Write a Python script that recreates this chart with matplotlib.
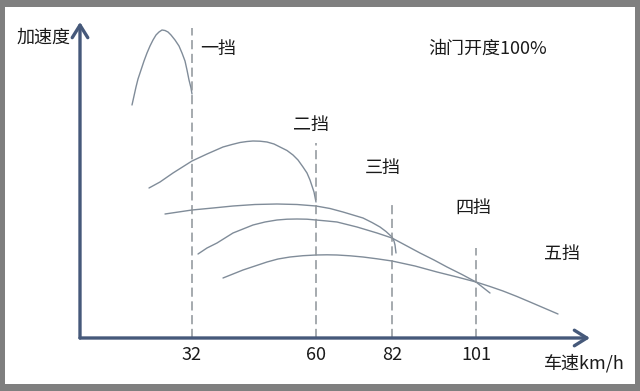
import matplotlib
matplotlib.use("Agg")
import matplotlib.pyplot as plt

plt.rcParams['font.family'] = ['Noto Sans CJK SC', 'DejaVu Sans']

# ---- data (schematic units: x = speed position, y = acceleration) ----
shift_speeds = ["32", "60", "82", "101"]
shift_pos = [112, 236, 312, 396]
shift_top = [310, 195, 136, 90]

g1_x = [52, 54, 56, 58, 61, 64, 67, 70, 73, 76, 79, 82, 85, 88, 91, 95,
        99, 102, 105, 107, 109, 111, 112]
g1_y = [233, 242, 251, 259, 268, 277, 285, 292, 298, 303, 306, 308, 307.5,
        306, 303, 298, 292, 285, 277, 268, 258, 250, 244]

g2_x = [69, 80, 93, 112, 127, 143, 152, 160, 167, 173, 180, 187, 194, 200,
        207, 213, 218, 223, 227, 230, 232, 234, 235, 236]
g2_y = [150, 156, 165, 177, 184, 191, 193.5, 195.5, 196.5, 197, 196.8, 196,
        194, 191, 187.5, 183, 178, 171, 165, 158, 152, 146, 141, 136]

g3_x = [85, 112, 133, 153, 175, 197, 217, 236, 250, 263, 273, 283, 292,
        300, 306, 312, 314, 315, 316]
g3_y = [124, 128, 130, 132, 133.5, 134, 133.5, 132, 129.5, 126, 123, 120,
        115.5, 111, 106.5, 101, 97, 93, 85]

g4_x = [118, 127, 137, 145, 153, 163, 173, 185, 197, 207, 217, 227, 236,
        247, 257, 267, 277, 287, 297, 312, 326, 340, 354, 367, 382, 396,
        403, 410]
g4_y = [84, 90, 95, 100, 105, 109, 113, 116, 118, 118.8, 119, 118.8, 118,
        117, 116, 113.5, 111, 108, 105, 100, 92.5, 85, 78, 71, 63.5, 56,
        50.5, 45]

g5_x = [143, 153, 163, 175, 187, 198, 210, 223, 236, 247, 257, 270, 283,
        297, 312, 335, 357, 377, 396, 410, 423, 437, 450, 464, 478]
g5_y = [60, 64, 68, 72, 76, 79, 81, 82.3, 83, 83.2, 83, 82.2, 81, 79.2,
        77, 72, 66, 61, 56, 51.5, 47, 41.5, 36, 30, 24]

gear_labels = ["一挡", "二挡", "三挡", "四挡", "五挡"]
gear_label_x = [138, 231, 303, 393, 482]
gear_label_y = [289, 213, 170, 130, 84]

y_title = "加速度"
x_title = "车速km/h"
note = "油门开度100%"

# ---- figure ----
fig = plt.figure(figsize=(6.4, 3.91), dpi=100, facecolor='#7f7f7f')
bg = fig.add_axes([5 / 640, 1 - 384 / 391, 630 / 640, 377 / 391], zorder=-5)
bg.set_facecolor('white')
bg.set_xticks([])
bg.set_yticks([])
for s in bg.spines.values():
    s.set_visible(False)

ax = fig.add_axes([80 / 640, (391 - 338) / 391, 510 / 640, 316 / 391], zorder=1)
ax.set_xlim(0, 510)
ax.set_ylim(0, 316)
ax.axis('off')

curve_color = '#808c99'
for xs, ys in [(g1_x, g1_y), (g2_x, g2_y), (g3_x, g3_y), (g4_x, g4_y), (g5_x, g5_y)]:
    ax.plot(xs, ys, color=curve_color, lw=1.0, solid_capstyle='round',
            solid_joinstyle='round', clip_on=False)

for xp, top in zip(shift_pos, shift_top):
    ax.plot([xp, xp], [0, top], color='#8d9399', lw=1.1,
            linestyle=(0, (6, 3)), clip_on=False)

axis_color = '#46597a'
arrow = dict(arrowstyle='->,head_length=0.45,head_width=0.28', lw=2.4,
             color=axis_color, mutation_scale=20, shrinkA=0, shrinkB=0)
ax.annotate('', xy=(510, 0), xytext=(0, 0), arrowprops=arrow,
            annotation_clip=False)
ax.annotate('', xy=(0, 316), xytext=(0, 0), arrowprops=arrow,
            annotation_clip=False)

tc = '#1a1a1a'
fs = 13
for lab, xp in zip(shift_speeds, shift_pos):
    ax.text(xp, -17, lab, ha='center', va='center', fontsize=fs, color=tc,
            clip_on=False)

for lab, xp, yp in zip(gear_labels, gear_label_x, gear_label_y):
    ax.text(xp, yp, lab, ha='center', va='center', fontsize=fs, color=tc,
            clip_on=False)

ax.text(-36, 300, y_title, ha='center', va='center', fontsize=fs, color=tc,
        clip_on=False)
ax.text(504, -25, x_title, ha='center', va='center', fontsize=fs, color=tc,
        clip_on=False)
ax.text(408, 289, note, ha='center', va='center', fontsize=fs, color=tc,
        clip_on=False)

fig.savefig('out.png', dpi=100, facecolor=fig.get_facecolor())
